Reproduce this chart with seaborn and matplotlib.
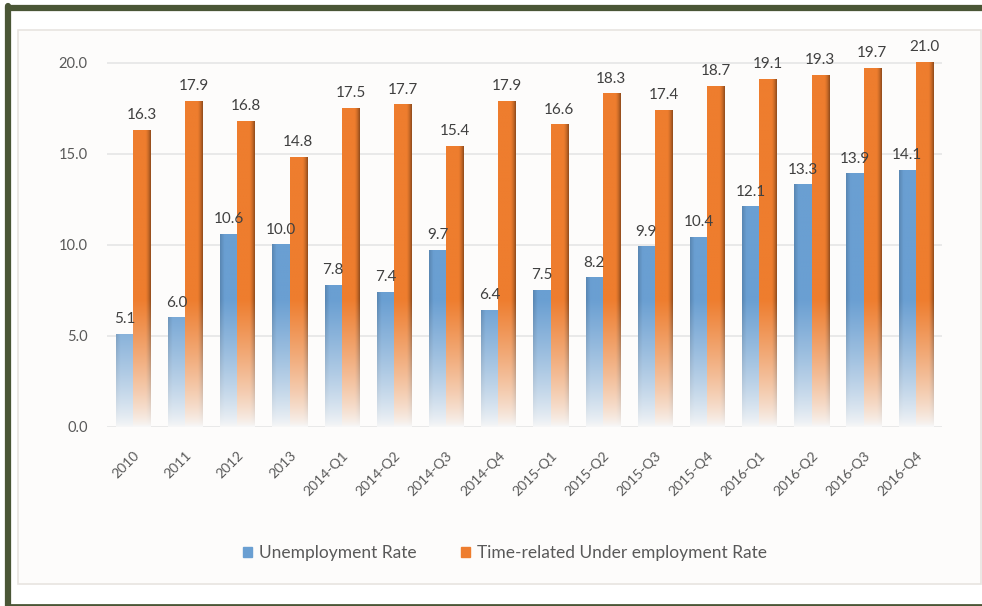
import numpy as np
import pandas as pd
import matplotlib
matplotlib.use("Agg")
import matplotlib.pyplot as plt
import matplotlib.colors as mcolors
from matplotlib.patches import Rectangle
from matplotlib.lines import Line2D
import seaborn as sns

# data
periods = ["2010", "2011", "2012", "2013", "2014-Q1", "2014-Q2", "2014-Q3", "2014-Q4",
           "2015-Q1", "2015-Q2", "2015-Q3", "2015-Q4", "2016-Q1", "2016-Q2", "2016-Q3", "2016-Q4"]
unemployment = [5.1, 6.0, 10.6, 10.0, 7.8, 7.4, 9.7, 6.4, 7.5, 8.2, 9.9, 10.4, 12.1, 13.3, 13.9, 14.1]
underemployment = [16.3, 17.9, 16.8, 14.8, 17.5, 17.7, 15.4, 17.9, 16.6, 18.3, 17.4, 18.7, 19.1, 19.3, 19.7, 21.0]
series_names = ["Unemployment Rate", "Time-related Under employment Rate"]
colors = ["#6a9fd2", "#ee7d2e"]

df = pd.DataFrame({
    "period": periods * 2,
    "value": unemployment + underemployment,
    "series": [series_names[0]] * len(periods) + [series_names[1]] * len(periods),
})

sns.set_theme(style="white")
plt.rcParams["font.family"] = ["Lato", "DejaVu Sans"]

fig = plt.figure(figsize=(9.82, 6.06), dpi=100)

# inner light panel
fig.patches.append(Rectangle((18 / 982, 22 / 606), 963 / 982, 554 / 606, transform=fig.transFigure,
                             facecolor="#fdfcfb", edgecolor="#e8e4e0", linewidth=1.2, zorder=-10))
# outer dark green frame: thick top and left, thin bottom
green = "#4a5636"
fig.lines.append(Line2D([8 / 982, 1], [1 - 8 / 606] * 2, transform=fig.transFigure,
                        color=green, linewidth=4.5, zorder=-5))
fig.lines.append(Line2D([8 / 982] * 2, [1 - 6 / 606, 0], transform=fig.transFigure,
                        color=green, linewidth=4.5, zorder=-5))
fig.lines.append(Line2D([8 / 982, 1], [1.5 / 606] * 2, transform=fig.transFigure,
                        color=green, linewidth=2, zorder=-5))

ax = fig.add_axes([107 / 982, 1 - 427 / 606, 835 / 982, 365 / 606])
ax.set_facecolor("none")

sns.barplot(data=df, x="period", y="value", hue="series", palette=colors,
            width=0.66, ax=ax, legend=False, saturation=1)

ymax = 20.05
n = len(periods)


def shade(col, xs, ys, right_dark):
    base = np.array(mcolors.to_rgb(col))
    # vertical fade to white near the baseline
    t = np.clip(ys / 7.0, 0, 1) ** 0.8
    # horizontal cylinder-ish shading
    if right_dark:
        h = 1 - 0.38 * np.clip((xs - 0.7) / 0.3, 0, 1) ** 1.5
    else:
        h = 1 - 0.15 * np.clip((0.25 - xs) / 0.25, 0, 1)
    c = base[None, None, :] * h[None, :, None]
    img = (1 - t[:, None, None]) * np.array([0.97, 0.97, 0.97]) + t[:, None, None] * c
    return np.clip(img, 0, 1)


for i, bar in enumerate(list(ax.patches)[:2 * n]):
    s = i // n
    x0, w, h = bar.get_x(), bar.get_width(), bar.get_height()
    bar.set_visible(False)
    top = min(h, ymax)
    ys = np.linspace(top, 0, 200)
    xs = np.linspace(0, 1, 30)
    img = shade(colors[s], xs, ys, right_dark=(s == 1))
    ax.imshow(img, extent=[x0, x0 + w, 0, top], aspect="auto", zorder=2, interpolation="bilinear")
    val = unemployment[i % n] if s == 0 else underemployment[i % n]
    ax.text(x0 + w / 2, top + 0.45, f"{val:.1f}", ha="center", va="bottom",
            fontsize=11, color="#404040", clip_on=False, zorder=4)

ax.set_aspect("auto")
ax.set_xlim(-0.5, n - 0.5)
ax.set_ylim(0, ymax)

ax.set_yticks([0, 5, 10, 15, 20])
ax.set_yticklabels([f"{v:.1f}" for v in [0, 5, 10, 15, 20]], fontsize=10.5, color="#595959")
ax.yaxis.grid(True, color="#e6e6e6", linewidth=1.2, zorder=0)
ax.set_axisbelow(True)
ax.tick_params(axis="y", length=0, pad=14)
ax.set_xticks(range(n))
ax.set_xticklabels(periods, rotation=45, ha="right", rotation_mode="anchor",
                   fontsize=10, color="#595959")
ax.tick_params(axis="x", length=0, pad=16)
ax.set_xlabel("")
ax.set_ylabel("")
for sp in ax.spines.values():
    sp.set_visible(False)

handles = [Rectangle((0, 0), 1, 1, color=c) for c in colors]
fig.legend(handles, series_names, loc="center", bbox_to_anchor=(505 / 982, 1 - 553 / 606),
           ncol=2, frameon=False, fontsize=12.5, handlelength=0.5, handleheight=0.5,
           columnspacing=2.6, handletextpad=0.4, labelcolor="#595959")

fig.savefig("out.png", dpi=100)
